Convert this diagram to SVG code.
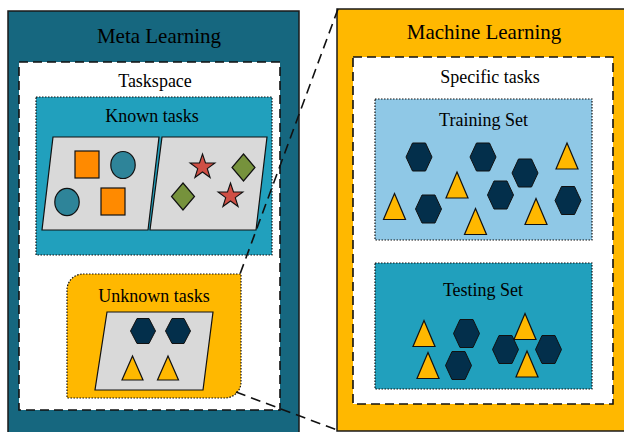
<svg xmlns="http://www.w3.org/2000/svg" width="624" height="432" viewBox="0 0 624 432">
  <style>
    .title { font-family: "Liberation Serif", "Times New Roman", serif; font-size: 21px; fill: #000; text-anchor: middle; }
    .label { font-family: "Liberation Serif", "Times New Roman", serif; font-size: 18px; fill: #000; text-anchor: middle; }
    .frame { stroke: #1a1a1a; stroke-width: 1.5; }
    .dash { fill: #fff; stroke: #111; stroke-width: 1.6; stroke-dasharray: 9 5; }
    .dot { stroke: #111; stroke-width: 1.2; stroke-dasharray: 1.5 1.5; }
    .sheet { fill: #d9d9d9; stroke: #111; stroke-width: 1.2; }
    .hex { fill: #032f4b; stroke: #111; stroke-width: 1; }
    .tri { fill: #ffb800; stroke: #111; stroke-width: 1.2; }
    .sq { fill: #ff8a00; stroke: #111; stroke-width: 1.2; }
    .circ { fill: #2e8499; stroke: #111; stroke-width: 1.2; }
    .star { fill: #cf4f45; stroke: #111; stroke-width: 1.1; }
    .dia { fill: #76923c; stroke: #111; stroke-width: 1.2; }
    .conn { fill: none; stroke: #111; stroke-width: 1.6; stroke-dasharray: 10 6; }
  </style>
  <defs>
    <polygon id="hexL" points="-13,0 -6.5,-14 6.5,-14 13,0 6.5,14 -6.5,14"/>
    <polygon id="hexS" points="-12.5,0 -6,-12.5 6,-12.5 12.5,0 6,12.5 -6,12.5"/>
    <polygon id="triL" points="0,-13 11,13 -11,13"/>
    <polygon id="triS" points="0,-12 10.5,12 -10.5,12"/>
    <polygon id="star5" points="0,-13 3,-4 12.4,-4 4.8,1.6 7.6,10.5 0,5 -7.6,10.5 -4.8,1.6 -12.4,-4 -3,-4"/>
    <polygon id="diam" points="0,-13.5 11.5,0 0,13.5 -11.5,0"/>
  </defs>

  <!-- Meta learning panel -->
  <g id="meta-learning">
    <rect x="8" y="11" width="291" height="430" fill="#16677f" class="frame"/>
    <text x="159" y="43" class="title">Meta Learning</text>
  </g>

  <!-- Taskspace -->
  <g id="taskspace">
    <rect x="19" y="62" width="261" height="348" class="dash"/>
    <text x="155" y="87" class="label">Taskspace</text>
  </g>

  <!-- Known tasks -->
  <g id="known-tasks">
    <rect x="36" y="97" width="236" height="158" fill="#21a0bd" class="dot"/>
    <text x="152" y="122" class="label">Known tasks</text>
    <polygon points="53,137 159,137 148,230 42,230" class="sheet"/>
    <polygon points="162,137 267,137 256,230 150,230" class="sheet"/>
    <rect x="75" y="151" width="24" height="27" class="sq"/>
    <rect x="101" y="188" width="24" height="27" class="sq"/>
    <ellipse cx="123" cy="165" rx="12.2" ry="13.5" class="circ"/>
    <ellipse cx="67" cy="202" rx="12.2" ry="13.7" class="circ"/>
    <use href="#star5" x="202.5" y="167" class="star"/>
    <use href="#star5" x="230.5" y="196" class="star"/>
    <use href="#diam" x="243.5" y="167.5" class="dia"/>
    <use href="#diam" x="183" y="196.5" class="dia"/>
  </g>

  <!-- Unknown tasks -->
  <g id="unknown-tasks">
    <path d="M83,274 H241 V382 A16,16 0 0 1 225,398 H67 V290 A16,16 0 0 1 83,274 Z" fill="#ffb800" class="dot"/>
    <text x="154" y="302" class="label">Unknown tasks</text>
    <polygon points="107,312 213,312 203,390 95,390" class="sheet"/>
    <use href="#hexS" x="143" y="331" class="hex"/>
    <use href="#hexS" x="178" y="331" class="hex"/>
    <use href="#triS" x="132.5" y="368" class="tri"/>
    <use href="#triS" x="168" y="368" class="tri"/>
  </g>

  <!-- Machine learning panel -->
  <g id="machine-learning">
    <rect x="337" y="9" width="300" height="422" fill="#ffb800" class="frame"/>
    <text x="484" y="39" class="title">Machine Learning</text>
  </g>

  <!-- Specific tasks -->
  <g id="specific-tasks">
    <rect x="353" y="57" width="260" height="347" class="dash"/>
    <text x="490" y="83" class="label">Specific tasks</text>
  </g>

  <!-- Training set -->
  <g id="training-set">
    <rect x="375" y="99" width="217" height="141" fill="#8fc8e6" class="dot"/>
    <text x="483.5" y="126" class="label">Training Set</text>
    <use href="#hexL" x="419" y="157" class="hex"/>
    <use href="#hexL" x="483" y="157" class="hex"/>
    <use href="#hexL" x="525" y="173" class="hex"/>
    <use href="#hexL" x="500.5" y="195" class="hex"/>
    <use href="#hexL" x="428.5" y="209" class="hex"/>
    <use href="#hexL" x="568" y="200.5" class="hex"/>
    <use href="#triL" x="567" y="156" class="tri"/>
    <use href="#triL" x="457" y="185" class="tri"/>
    <use href="#triL" x="394.5" y="206.5" class="tri"/>
    <use href="#triL" x="475.5" y="221.5" class="tri"/>
    <use href="#triL" x="536" y="211.5" class="tri"/>
  </g>

  <!-- Testing set -->
  <g id="testing-set">
    <rect x="375" y="263" width="217" height="126" fill="#21a0bd" class="dot"/>
    <text x="483" y="296" class="label">Testing Set</text>
    <use href="#hexL" x="466.5" y="333.5" class="hex"/>
    <use href="#hexL" x="458.5" y="365.5" class="hex"/>
    <use href="#hexL" x="505.5" y="349.5" class="hex"/>
    <use href="#hexL" x="548.5" y="349.5" class="hex"/>
    <use href="#triL" x="424" y="333.5" class="tri"/>
    <use href="#triL" x="428" y="365.5" class="tri"/>
    <use href="#triL" x="525" y="326.5" class="tri"/>
    <use href="#triL" x="527" y="364" class="tri"/>
  </g>

  <!-- Zoom connectors from unknown tasks to machine learning panel -->
  <g id="connectors">
    <line x1="338" y1="9" x2="240" y2="274" class="conn"/>
    <line x1="236" y1="392" x2="337" y2="430" class="conn"/>
  </g>
</svg>
